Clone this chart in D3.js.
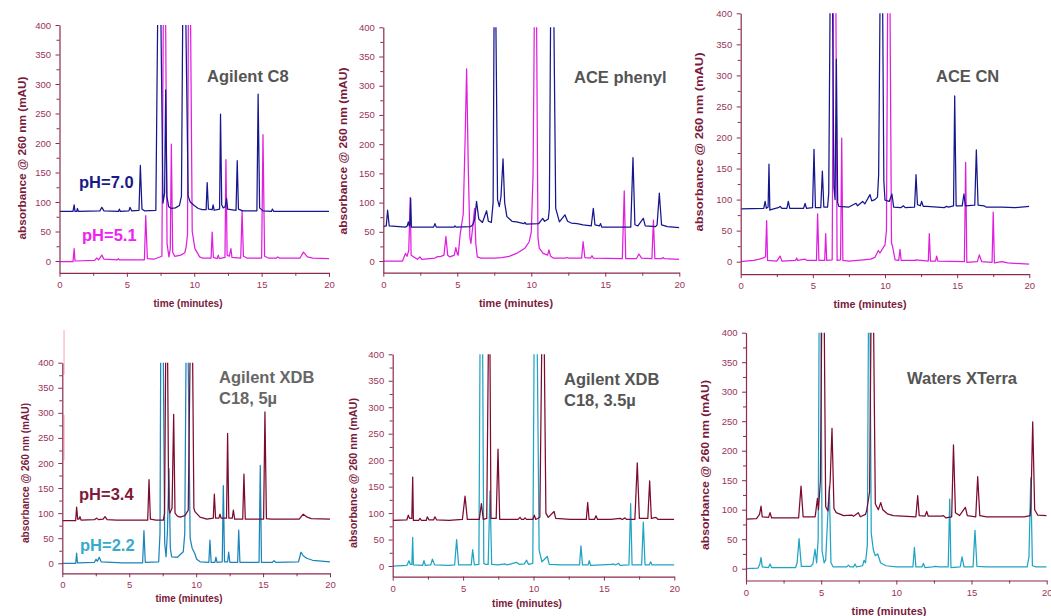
<!DOCTYPE html>
<html><head><meta charset="utf-8">
<script src="https://cdn.jsdelivr.net/npm/d3@7"></script>
<style>body{margin:0;background:#fff}svg text{font-family:"Liberation Sans",Arial,sans-serif}</style>
</head><body><svg id="c" width="1051" height="616"></svg>
<script>
// ---------- axis definitions ----------
const xDomain = [0, 20];
const yDomain = [-20, 400];
const xTickValues = [0, 5, 10, 15, 20];
const xMinorValues = [2.5, 7.5, 12.5, 17.5];
const yTickValues = [0, 50, 100, 150, 200, 250, 300, 350, 400];
const yMinorValues = [25, 75, 125, 175, 225, 275, 325, 375];
const xAxisTitle = "time (minutes)";
const yAxisTitle = "absorbance @ 260 nm (mAU)";

// ---------- column names ----------
const columnNames = [["Agilent C8"], ["ACE phenyl"], ["ACE CN"],
  ["Agilent XDB", "C18, 5µ"], ["Agilent XDB", "C18, 3.5µ"], ["Waters XTerra"]];
const phTop = ["pH=7.0", "pH=5.1"];
const phBottom = ["pH=3.4", "pH=2.2"];

// ---------- traces: [time (min), absorbance (mAU)] ----------
const c8_pH70 = [[0,84],[1.0,84],[1.09,95],[1.15,84],[1.28,84],[1.33,89],[1.4,84],[3.0,85],[3.14,91],[3.3,85],[4.38,84],[4.44,88],[4.52,84],[5.15,85],[5.23,91],[5.35,85],[5.9,86],[6.0,162],[6.12,88],[6.3,85],[7.15,86],[7.28,400],[7.4,1000],[7.53,400],[7.68,98],[7.8,115],[7.88,290],[7.97,110],[8.1,92],[8.3,89],[8.6,90],[8.9,94],[9.05,110],[9.14,400],[9.26,1000],[9.38,400],[9.55,110],[9.7,100],[10.0,94],[10.3,89],[10.6,87],[10.88,87],[10.96,133],[11.05,88],[11.33,87],[11.4,95],[11.48,86],[11.88,88],[11.95,249],[12.04,95],[12.15,90],[12.3,92],[12.4,106],[12.48,88],[13.1,86],[13.19,170],[13.28,88],[13.6,85],[14.65,85],[14.74,283],[14.85,90],[15.1,85],[15.72,84],[15.8,88],[15.9,84],[20,84]];
const c8_pH51 = [[0,-1],[1.0,-1],[1.09,21],[1.15,0],[2.6,1],[2.77,5],[2.9,2],[3.14,10],[3.3,3],[4.3,2],[4.37,4],[4.45,2],[6.3,2],[6.4,77],[6.52,4],[7.0,3],[7.6,8],[7.7,400],[7.79,1000],[7.88,400],[7.98,30],[8.12,7],[8.22,20],[8.3,198],[8.4,15],[8.55,8],[9.0,10],[9.3,14],[9.4,24],[9.5,45],[9.56,400],[9.645,1000],[9.73,400],[9.85,50],[10.05,21],[10.4,7],[10.6,5],[11.25,5],[11.33,49],[11.42,6],[11.7,4],[11.78,10],[11.86,4],[12.28,6],[12.35,172],[12.44,10],[12.6,8],[12.72,21],[12.8,6],[13.45,5],[13.55,85],[13.65,8],[13.9,5],[15.0,5],[15.1,214],[15.22,8],[15.5,5],[16.1,5],[16.2,7],[16.3,5],[17.85,5],[18.1,15],[18.4,7],[18.8,5],[20,4]];
const phenyl_pH70 = [[0,59],[0.2,60],[0.29,87],[0.4,60],[1.5,58],[1.62,60],[1.69,67],[1.76,60],[1.8,62],[1.85,107],[1.9,58],[3.4,58],[3.49,64],[3.58,58],[4.78,58],[4.84,60],[4.92,58],[5.9,59],[6.05,62],[6.18,72],[6.3,102],[6.45,72],[6.7,66],[6.98,86],[7.1,68],[7.3,66],[7.42,100],[7.48,400],[7.545,1000],[7.61,400],[7.72,105],[7.84,93],[7.95,110],[8.09,175],[8.2,100],[8.35,76],[8.7,68],[9.0,67],[9.5,64],[9.57,66],[9.65,63],[10.5,64],[10.77,73],[10.9,68],[11.15,72],[11.22,90],[11.3,400],[11.415,1000],[11.53,400],[11.65,90],[11.9,67],[12.27,79],[12.45,68],[12.7,65],[13.1,64],[13.5,62],[14.05,60],[14.19,90],[14.3,62],[14.6,60],[14.68,64],[14.76,58],[15.5,58],[16.72,58],[16.87,177],[17.0,62],[17.2,60],[17.57,73],[17.7,60],[18.4,59],[18.5,62],[18.65,116],[18.8,62],[19.2,59],[20,57]];
const phenyl_pH51 = [[0,0],[1.3,0],[1.5,13],[1.6,8],[1.72,18],[1.82,109],[1.88,10],[2.3,3],[2.48,7],[2.6,3],[3.5,5],[3.6,7],[3.9,8],[4.1,10],[4.23,42],[4.35,10],[4.5,7],[4.8,10],[4.9,23],[5.0,12],[5.06,10],[5.2,47],[5.4,80],[5.52,200],[5.63,329],[5.75,150],[5.85,40],[5.92,30],[6.05,60],[6.17,90],[6.25,30],[6.35,7],[6.6,5],[7.5,5],[8.0,6],[8.5,8],[9.0,13],[9.57,22],[9.86,33],[10.0,50],[10.12,150],[10.2,400],[10.28,1000],[10.36,400],[10.45,40],[10.54,22],[10.8,13],[11.1,10],[11.19,19],[11.3,8],[11.48,5],[12.3,5],[12.4,6],[12.5,5],[13.4,5],[13.5,33],[13.62,6],[14.0,5],[14.1,9],[14.2,5],[16.15,4],[16.28,120],[16.38,4],[17.1,4],[17.27,12],[17.45,5],[18.15,4],[18.25,70],[18.35,4],[18.8,4],[18.9,6],[19.0,4],[20,3]];
const cn_pH70 = [[0,85],[1.6,86],[1.69,97],[1.78,86],[1.9,88],[1.96,157],[2.02,83],[2.1,84],[2.6,87],[2.73,89],[2.85,86],[3.2,86],[3.3,97],[3.4,86],[4.36,86],[4.46,94],[4.56,86],[4.98,87],[5.08,181],[5.18,87],[5.55,87],[5.66,146],[5.76,88],[6.02,88],[6.1,110],[6.19,400],[6.28,1000],[6.37,400],[6.46,120],[6.54,100],[6.63,326],[6.72,95],[6.8,89],[7.5,88],[7.99,94],[8.1,90],[8.45,97],[8.6,93],[8.96,108],[9.08,98],[9.3,100],[9.48,104],[9.56,140],[9.65,400],[9.745,1000],[9.84,400],[9.92,130],[10.0,99],[10.3,97],[10.48,109],[10.6,88],[11.1,87],[11.27,90],[11.4,87],[12.05,88],[12.15,140],[12.25,92],[12.45,90],[12.54,97],[12.65,89],[12.9,89],[14.1,87],[14.27,89],[14.4,88],[14.75,90],[14.83,267],[14.93,90],[15.35,90],[15.47,109],[15.57,90],[16.22,91],[16.33,180],[16.45,91],[16.86,90],[17.0,88],[18.08,88],[19.0,87],[20,89]];
const cn_pH51 = [[0,0],[0.9,2],[1.3,4],[1.57,6],[1.72,8],[1.8,66],[1.86,2],[2.5,1],[2.73,9],[2.85,1],[3.8,2],[3.88,6],[3.95,2],[4.46,4],[4.6,2],[5.25,2],[5.33,77],[5.42,2],[5.82,2],[5.89,45],[5.96,2],[6.34,3],[6.42,400],[6.51,1000],[6.6,400],[6.68,2],[6.92,3],[7.0,199],[7.08,2],[7.5,1],[8.5,3],[9.0,4],[9.3,7],[9.54,18],[9.65,14],[10.0,27],[10.1,50],[10.18,400],[10.265,1000],[10.35,400],[10.45,30],[10.53,24],[10.7,3],[10.95,2],[11.04,20],[11.12,2],[12.1,2],[12.15,3],[13.0,1],[13.07,45],[13.15,1],[13.5,1],[13.58,9],[13.66,1],[15.5,0],[15.59,160],[15.67,-1],[16.4,0],[16.54,11],[16.7,0],[17.42,-1],[17.5,80],[17.58,-2],[18.1,0],[18.5,-2],[20,-4]];
const xdb5_pH34 = [[0,85],[1.0,85],[1.07,112],[1.15,88],[1.25,88],[1.32,93],[1.4,86],[2.4,87],[2.57,90],[2.7,87],[3.05,88],[3.19,93],[3.35,87],[4.06,86],[6.38,86],[6.48,167],[6.58,88],[7.0,86],[7.55,86],[7.64,100],[7.72,400],[7.795,1000],[7.87,400],[7.95,110],[8.04,100],[8.2,110],[8.32,297],[8.42,100],[8.6,94],[8.8,92],[9.16,95],[9.41,106],[9.54,400],[9.64,1000],[9.74,400],[9.83,110],[9.91,103],[10.29,92],[10.8,88],[11.28,90],[11.36,138],[11.45,90],[11.7,90],[11.78,98],[11.86,90],[12.27,90],[12.35,259],[12.44,90],[12.7,90],[12.78,106],[12.88,88],[13.48,88],[13.57,178],[13.67,88],[15.04,88],[15.14,302],[15.25,89],[15.6,88],[17.7,88],[18.0,98],[18.3,92],[18.6,89],[20,88]];
const xdb5_pH22 = [[0,0],[1.0,0],[1.07,20],[1.13,1],[2.4,2],[2.52,8],[2.62,4],[2.76,12],[2.9,3],[4.5,1],[6.0,1],[6.1,65],[6.2,2],[7.2,3],[7.3,60],[7.35,400],[7.45,1000],[7.55,400],[7.65,40],[7.75,13],[7.85,60],[7.97,189],[8.07,30],[8.17,13],[8.6,12],[9.04,23],[9.15,60],[9.24,400],[9.325,1000],[9.41,400],[9.55,50],[9.7,30],[9.89,20],[10.04,8],[10.3,3],[10.95,2],[11.03,46],[11.12,2],[11.4,2],[11.48,12],[11.56,2],[11.95,3],[12.03,155],[12.12,3],[12.35,3],[12.43,22],[12.52,2],[13.1,2],[13.18,66],[13.27,2],[14.7,2],[14.79,195],[14.88,2],[15.7,2],[15.82,5],[15.95,2],[17.65,3],[17.83,22],[18.0,15],[18.26,10],[18.7,6],[20,3]];
const xdb35_pH34 = [[0,86],[1.0,87],[1.11,96],[1.2,90],[1.36,90],[1.42,168],[1.47,86],[1.85,86],[1.94,90],[2.05,86],[2.38,86],[2.46,93],[2.58,87],[2.9,87],[3.0,93],[3.12,87],[4.0,86],[4.95,88],[5.14,132],[5.3,88],[6.15,88],[6.3,118],[6.43,88],[6.68,90],[6.79,400],[6.85,1000],[6.91,400],[6.98,90],[7.35,90],[7.48,221],[7.6,88],[8.9,88],[9.04,92],[9.15,88],[9.3,88],[9.4,91],[9.5,88],[9.95,88],[10.06,96],[10.16,88],[10.45,92],[10.58,400],[10.675,1000],[10.77,400],[10.88,100],[11.05,92],[11.46,103],[11.58,90],[12.6,88],[13.0,88],[13.75,88],[13.85,120],[13.95,88],[14.33,88],[14.44,95],[14.55,88],[15.5,88],[16.14,90],[16.3,88],[16.5,91],[16.6,88],[17.2,88],[17.37,195],[17.52,90],[18.12,90],[18.25,161],[18.37,90],[18.7,92],[18.85,88],[20,88]];
const xdb35_pH22 = [[0,0],[1.0,1],[1.16,10],[1.25,3],[1.36,3],[1.42,54],[1.47,2],[2.12,1],[2.22,10],[2.32,1],[2.7,2],[2.82,13],[2.98,2],[4.0,1],[4.4,2],[4.54,50],[4.68,2],[5.58,2],[5.68,31],[5.8,2],[6.12,3],[6.2,400],[6.295,1000],[6.39,400],[6.47,5],[6.6,3],[6.78,3],[6.91,142],[7.03,3],[7.5,2],[7.98,4],[8.1,2],[8.4,4],[8.8,7],[9.0,3],[9.35,4],[9.51,11],[9.65,3],[9.95,5],[10.04,400],[10.155,1000],[10.27,400],[10.4,30],[10.6,8],[10.98,18],[11.12,3],[12.0,2],[13.27,2],[13.37,38],[13.48,2],[13.88,2],[13.96,10],[14.06,1],[15.6,3],[15.67,4],[15.8,2],[16.05,5],[16.15,1],[16.78,2],[16.9,118],[17.0,2],[17.68,2],[17.8,83],[17.92,2],[18.22,2],[18.32,8],[18.42,2],[20,2]];
const xterra_pH34 = [[0,84],[0.7,85],[0.9,92],[1.0,106],[1.08,88],[1.5,87],[1.6,95],[1.7,86],[3.5,86],[3.66,140],[3.8,88],[4.6,88],[4.75,119],[4.82,100],[4.95,150],[5.03,400],[5.12,1000],[5.21,400],[5.3,105],[5.45,98],[5.6,150],[5.72,238],[5.85,102],[6.0,95],[6.5,90],[7.03,91],[7.15,89],[7.47,95],[7.6,88],[7.95,92],[8.03,99],[8.22,130],[8.31,400],[8.4,1000],[8.49,400],[8.6,110],[8.8,100],[8.96,112],[9.1,100],[9.4,93],[9.8,90],[11.3,88],[11.42,124],[11.52,90],[11.9,89],[12.02,97],[12.12,89],[13.0,89],[13.13,90],[13.3,86],[13.68,88],[13.8,210],[13.93,95],[14.2,90],[14.59,104],[14.72,90],[15.28,88],[15.41,156],[15.55,90],[16.0,88],[18.5,88],[18.9,90],[18.95,110],[19.07,249],[19.2,100],[19.4,91],[20,90]];
const xterra_pH22 = [[0,0],[0.8,1],[0.92,8],[1.0,19],[1.08,3],[1.5,2],[1.6,8],[1.7,2],[3.3,2],[3.4,10],[3.53,51],[3.68,4],[4.3,4],[4.45,8],[4.59,33],[4.7,10],[4.8,50],[4.86,400],[4.925,1000],[4.99,400],[5.06,30],[5.2,10],[5.3,15],[5.42,80],[5.54,139],[5.65,10],[5.8,3],[6.7,3],[6.81,6],[6.92,3],[7.15,3],[7.25,8],[7.35,3],[7.75,5],[7.85,14],[7.95,10],[8.07,40],[8.14,400],[8.195,1000],[8.25,400],[8.33,60],[8.47,32],[8.6,22],[8.76,25],[8.95,10],[9.3,5],[10.0,3],[11.1,3],[11.2,36],[11.3,3],[11.7,3],[11.8,9],[11.9,2],[12.4,3],[12.6,4],[12.85,3],[13.45,3],[13.55,118],[13.63,2],[14.25,3],[14.37,20],[14.5,3],[15.1,3],[15.23,65],[15.36,4],[16.0,3],[18.7,3],[18.82,20],[18.94,154],[19.05,5],[19.3,3],[20,3]];

// ---------- styles ----------
const C = {
  navy: "#16168e", magenta: "#e01ee0", maroon: "#7c0b2e", tealA: "#1c84ba", tealB: "#20a4c4",
  navyTxt: "#1a1a86", magentaTxt: "#f022f0", maroonTxt: "#82183a", tealTxt: "#38abcc",
  axis: "#8c2a50", tick: "#9a3358", title: "#7a1a3c"
};

// ---------- layout ----------
const panels = [
  {frame:{l:59.5,r:329,t:25,b:272.8}, name:columnNames[0], nameAt:[207,82], nameColor:"#555",
   traces:[{d:c8_pH51,c:C.magenta},{d:c8_pH70,c:C.navy}],
   ph:[{s:phTop[0],x:79,y:188,c:C.navyTxt},{s:phTop[1],x:82,y:241,c:C.magentaTxt}],
   ylab:[22,158,163], xlab:[188,303,69]},
  {frame:{l:383.3,r:679.3,t:27.3,b:272.7}, name:columnNames[1], nameAt:[574,83], nameColor:"#555",
   traces:[{d:phenyl_pH51,c:C.magenta},{d:phenyl_pH70,c:C.navy}], ph:[],
   ylab:[343,151,167], xlab:[516,303,74]},
  {frame:{l:740.7,r:1029.3,t:13.3,b:274.1}, name:columnNames[2], nameAt:[936,82], nameColor:"#555",
   traces:[{d:cn_pH51,c:C.magenta},{d:cn_pH70,c:C.navy}], ph:[],
   ylab:[699,142,179], xlab:[870,304,73]},
  {frame:{l:62.3,r:330,t:362.7,b:573.3}, name:columnNames[3], nameAt:[219,383], nameColor:"#666",
   traces:[{d:xdb5_pH22,c:C.tealA},{d:xdb5_pH34,c:C.maroon}],
   ph:[{s:phBottom[0],x:79,y:500,c:C.maroonTxt},{s:phBottom[1],x:80,y:551,c:C.tealTxt}],
   ylab:[25,473,140], xlab:[189,598,67], artifact:[[465,376],[296,206]]},
  {frame:{l:392.7,r:674.3,t:354.3,b:576.6}, name:columnNames[4], nameAt:[564,385], nameColor:"#555",
   traces:[{d:xdb35_pH22,c:C.tealB},{d:xdb35_pH34,c:C.maroon}], ph:[],
   ylab:[353,473,150], xlab:[527,603,70]},
  {frame:{l:746,r:1046.7,t:332.7,b:580.5}, name:columnNames[5], nameAt:[907,384], nameColor:"#555",
   traces:[{d:xterra_pH22,c:C.tealB},{d:xterra_pH34,c:C.maroon}], ph:[],
   ylab:[705,465,170], xlab:[889,611,75]}
];

const svg = d3.select("#c");
const font = '"Liberation Sans",Arial,sans-serif';

panels.forEach((p, i) => {
  const f = p.frame;
  const x = d3.scaleLinear().domain(xDomain).range([f.l, f.r]);
  const y = d3.scaleLinear().domain(yDomain).range([f.b, f.t]);
  const g = svg.append("g");

  if (p.artifact) {
    p.artifact.forEach(seg => {
      g.append("line").attr("x1", x(0.13)).attr("x2", x(0.13))
        .attr("y1", y(seg[0])).attr("y2", y(seg[1]))
        .attr("stroke", "#f6a6ae").attr("stroke-width", 1);
    });
  }

  g.append("clipPath").attr("id", "clip" + i).append("rect")
    .attr("x", f.l).attr("y", f.t).attr("width", f.r - f.l).attr("height", f.b - f.t);

  const line = d3.line().x(d => x(d[0])).y(d => y(d[1]));
  const tg = g.append("g").attr("clip-path", `url(#clip${i})`);
  p.traces.forEach(t => {
    tg.append("path").datum(t.d).attr("d", line)
      .attr("fill", "none").attr("stroke", t.c).attr("stroke-width", 1.25)
      .attr("stroke-linejoin", "round");
  });

  const styleAxis = sel => {
    sel.select(".domain").attr("stroke", C.axis).attr("stroke-width", 1.2);
    sel.selectAll(".tick line").attr("stroke", C.axis).attr("stroke-width", 1);
    sel.selectAll(".tick text").attr("fill", C.tick).attr("font-size", "9.5px").attr("font-family", font);
  };
  const yAx = g.append("g").attr("transform", `translate(${f.l},0)`)
    .call(d3.axisLeft(y).tickValues(yTickValues).tickSize(4).tickSizeOuter(0).tickPadding(4.5));
  styleAxis(yAx);
  const yMin = g.append("g").attr("transform", `translate(${f.l},0)`)
    .call(d3.axisLeft(y).tickValues(yMinorValues).tickSize(3).tickFormat(""));
  yMin.select(".domain").remove(); styleAxis(yMin);

  const xAx = g.append("g").attr("transform", `translate(0,${f.b})`)
    .call(d3.axisBottom(x).tickValues(xTickValues).tickSize(4).tickSizeOuter(0).tickPadding(4.4));
  styleAxis(xAx);
  const xMin = g.append("g").attr("transform", `translate(0,${f.b})`)
    .call(d3.axisBottom(x).tickValues(xMinorValues).tickSize(3).tickFormat(""));
  xMin.select(".domain").remove(); styleAxis(xMin);

  g.append("text").attr("transform", `translate(${p.ylab[0]},${p.ylab[1]}) rotate(-90)`)
    .attr("text-anchor", "middle").attr("dominant-baseline", "central")
    .attr("font-size", "11.5px").attr("font-weight", "bold").attr("fill", C.title)
    .attr("textLength", p.ylab[2]).attr("lengthAdjust", "spacingAndGlyphs").text(yAxisTitle);
  g.append("text").attr("x", p.xlab[0]).attr("y", p.xlab[1])
    .attr("text-anchor", "middle").attr("dominant-baseline", "central")
    .attr("font-size", "11px").attr("font-weight", "bold").attr("fill", C.title)
    .attr("textLength", p.xlab[2]).attr("lengthAdjust", "spacingAndGlyphs").text(xAxisTitle);

  p.name.forEach((s, k) => {
    g.append("text").attr("x", p.nameAt[0]).attr("y", p.nameAt[1] + k * 21)
      .attr("font-size", "16.5px").attr("font-weight", "bold").attr("fill", p.nameColor).text(s);
  });

  p.ph.forEach(h => {
    g.append("text").attr("x", h.x).attr("y", h.y).attr("font-size", "16.5px")
      .attr("font-weight", "bold").attr("fill", h.c).text(h.s);
  });
});
</script></body></html>
